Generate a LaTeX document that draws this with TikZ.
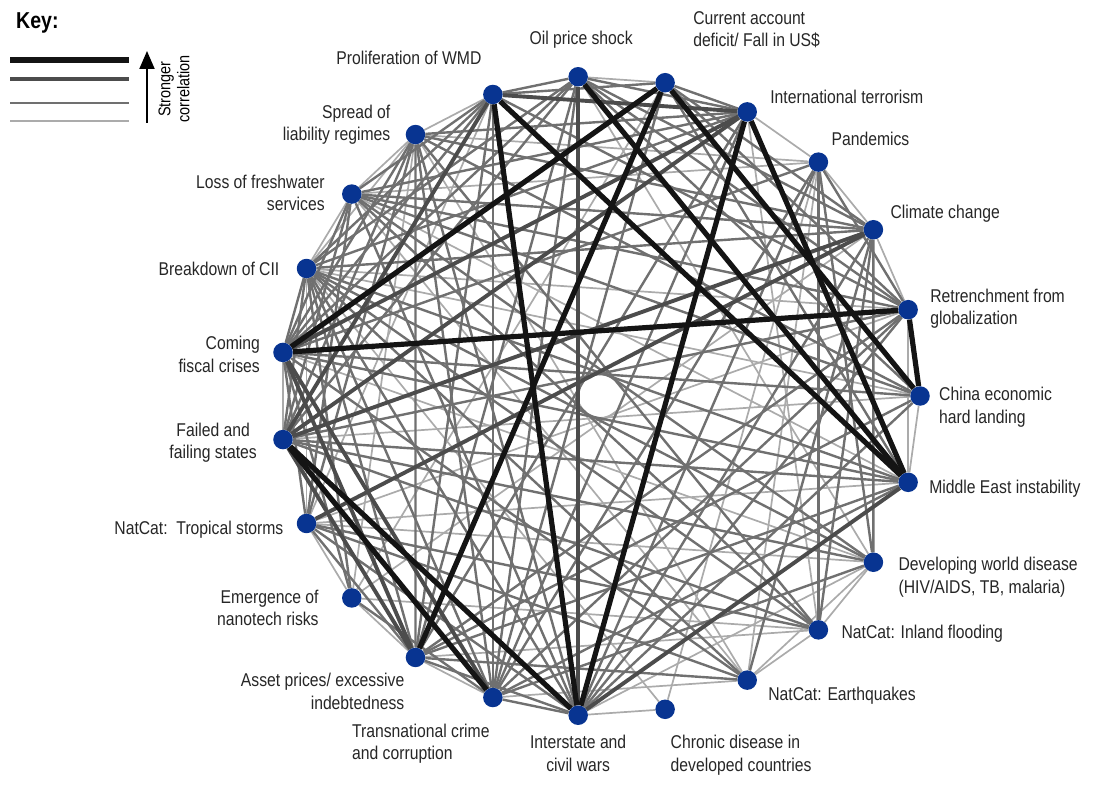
\documentclass[tikz,border=0pt]{standalone}
\usepackage{fontspec}
\setmainfont{Liberation Sans}[FakeStretch=0.85]
\usetikzlibrary{positioning, arrows.meta, backgrounds}
\definecolor{riskblue}{RGB}{8,52,145}

\begin{document}
\begin{tikzpicture}[
    x=1pt, y=1pt,
    risk/.style={circle, fill=riskblue, minimum size=19.5pt, inner sep=0pt},
    lbl/.style={font=\fontsize{18.5}{22.5}\selectfont, inner sep=1pt, text=black!85},
    corr1/.style={line width=1.7pt, black!33},
    corr2/.style={line width=2.4pt, black!56},
    corr3/.style={line width=3.9pt, black!70},
    corr4/.style={line width=5.2pt, black!92},
]
\useasboundingbox (0,0) rectangle (1102,788);

% Risks on a circle, counterclockwise from the east
\foreach \name [count=\i from 0] in {china,retrench,climate,pandemic,terror,current,oil,wmd,liability,water,cii,fiscal,failed,storms,nano,asset,crime,wars,chronic,quakes,flood,devdis,mideast}
  \node[risk] (\name) at ({600+320*cos(\i*360/23)}, {392+320*sin(\i*360/23)}) {};

% Labels
\node[lbl, right=8pt of china, yshift=-11pt, align=left] (chinalbl) {China economic\\hard landing};
\node[lbl, right=11pt of retrench, yshift=1pt, align=left] (retrenchlbl) {Retrenchment from\\globalization};
\node[lbl, right=6pt of climate, yshift=16pt] (climatelbl) {Climate change};
\node[lbl, right=2pt of pandemic, yshift=23pt] (pandemiclbl) {Pandemics};
\node[lbl, right=12pt of terror, yshift=15pt] (terrorlbl) {International terrorism};
\node[lbl, right=17pt of current, yshift=53pt, align=left] (currentlbl) {Current account\\deficit/ Fall in US\$};
\node[lbl, above=17pt of oil, xshift=3pt] (oillbl) {Oil price shock};
\node[lbl, above=19pt of wmd, xshift=-84pt] (wmdlbl) {Proliferation of WMD};
\node[lbl, left=14pt of liability, yshift=10pt, align=right] (liabilitylbl) {Spread of\\liability regimes};
\node[lbl, left=16pt of water, yshift=1pt, align=right] (waterlbl) {Loss of freshwater\\services};
\node[lbl, left=16pt of cii] (ciilbl) {Breakdown of CII};
\node[lbl, left=12pt of fiscal, yshift=-2pt, align=right] (fiscallbl) {Coming\\fiscal crises};
\node[lbl, left=15pt of failed, yshift=-3pt, align=center] (failedlbl) {Failed and\\failing states};
\node[lbl, left=12pt of storms, yshift=-6pt] (stormslbl) {NatCat:\ \ Tropical storms};
\node[lbl, left=22pt of nano, yshift=-10pt, align=right] (nanolbl) {Emergence of\\nanotech risks};
\node[lbl, left=0pt of asset, yshift=-34pt, align=right] (assetlbl) {Asset prices/ excessive\\indebtedness};
\node[lbl, below=15pt of crime, xshift=-72pt, align=left] (crimelbl) {Transnational crime\\and corruption};
\node[lbl, below=9pt of wars, align=center] (warslbl) {Interstate and\\civil wars};
\node[lbl, below=15pt of chronic, xshift=76pt, align=left] (chroniclbl) {Chronic disease in\\developed countries};
\node[lbl, right=10pt of quakes, yshift=-16pt] (quakeslbl) {NatCat: Earthquakes};
\node[lbl, right=12pt of flood, yshift=-4pt] (floodlbl) {NatCat: Inland flooding};
\node[lbl, right=14pt of devdis, yshift=-15pt, align=left] (devdislbl) {Developing world disease\\(HIV/AIDS, TB, malaria)};
\node[lbl, right=10pt of mideast, yshift=-6pt] (mideastlbl) {Middle East instability};

% Correlations
\begin{scope}[on background layer]
\foreach \a/\b in {cii/storms, fiscal/failed, liability/nano, water/cii, liability/water, liability/cii, nano/storms, nano/asset,
    crime/asset, chronic/wars, chronic/pandemic, devdis/flood, flood/quakes, quakes/devdis, pandemic/climate, pandemic/terror,
    retrench/mideast, china/mideast, climate/retrench, wmd/liability, oil/current, water/pandemic, liability/pandemic,
    cii/retrench, storms/retrench, nano/climate, storms/devdis, fiscal/devdis, chronic/cii, nano/flood, water/quakes,
    liability/quakes, pandemic/quakes, terror/flood, oil/devdis, current/nano, wmd/storms, cii/china, water/mideast,
    storms/mideast, failed/china, crime/quakes, asset/flood, wars/devdis}
  \draw[corr1] (\a) -- (\b);
\foreach \a/\b in {oil/terror, oil/retrench, oil/china, oil/fiscal, oil/failed, oil/asset, oil/crime, oil/cii, oil/climate,
    current/terror, current/retrench, current/climate, current/mideast, current/crime,
    terror/asset, terror/crime, terror/cii, terror/liability, terror/water,
    pandemic/wars, pandemic/devdis, pandemic/retrench, pandemic/fiscal, pandemic/crime, pandemic/flood,
    climate/devdis, climate/flood, climate/quakes, climate/liability, climate/cii, climate/wars, water/climate,
    retrench/failed, retrench/asset, retrench/water, retrench/crime,
    china/asset, china/fiscal, china/liability, china/water, china/wars,
    mideast/failed, mideast/crime, mideast/asset, mideast/cii, mideast/fiscal,
    devdis/failed, devdis/crime, devdis/water, devdis/cii,
    flood/storms, flood/water, flood/cii, flood/failed, flood/liability,
    quakes/cii, quakes/asset, quakes/storms, quakes/fiscal,
    wars/crime, wars/asset, wars/water, wars/liability, wars/cii, wars/retrench, wars/storms,
    crime/cii, crime/nano, crime/liability, asset/cii, asset/liability, asset/storms,
    nano/cii, nano/fiscal, storms/water, storms/liability, storms/fiscal,
    failed/cii, failed/water, failed/liability, fiscal/cii, fiscal/liability, fiscal/water,
    wmd/water, wmd/crime, wmd/cii, wmd/retrench, wmd/oil, wmd/current, wmd/asset, wmd/fiscal}
  \draw[corr2] (\a) -- (\b);
\foreach \a/\b in {wmd/terror, wmd/failed, climate/failed, climate/storms, mideast/wars, oil/wars, failed/asset,
    fiscal/asset, fiscal/crime, terror/failed, terror/fiscal}
  \draw[corr3] (\a) -- (\b);
\foreach \a/\b in {wmd/mideast, oil/mideast, terror/mideast, current/china, retrench/china, fiscal/retrench,
    current/fiscal, current/asset, terror/wars, wmd/wars, failed/wars, failed/crime}
  \draw[corr4] (\a) -- (\b);
\end{scope}

% Key
\node[font=\bfseries\fontsize{23}{26}\selectfont, anchor=west, inner sep=0pt] (keytitle) at (16,765) {Key:};
\coordinate (k4) at (10,728);  \coordinate (k4e) at (129,728);
\coordinate (k3) at (10,709);  \coordinate (k3e) at (129,709);
\coordinate (k2) at (10,685);  \coordinate (k2e) at (129,685);
\coordinate (k1) at (10,667);  \coordinate (k1e) at (129,667);
\draw[corr4] (k4) -- (k4e);
\draw[corr3] (k3) -- (k3e);
\draw[corr2] (k2) -- (k2e);
\draw[corr1] (k1) -- (k1e);
\coordinate (arrlow) at (147,665);
\coordinate (arrtop) at (147,737);
\draw[line width=2pt, -{Triangle[length=18pt, width=15pt]}] (arrlow) -- (arrtop);
\node[font=\fontsize{17}{19}\selectfont, rotate=90, align=center, inner sep=0pt] (keytext) at (174,699) {Stronger\\correlation};
\end{tikzpicture}
\end{document}
